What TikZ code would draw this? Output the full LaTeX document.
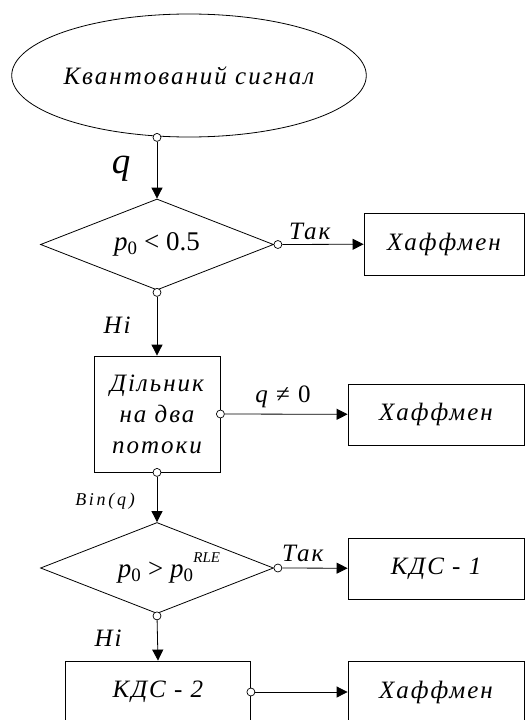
\documentclass[tikz,border=0pt]{standalone}
\usepackage{fontspec}
\setmainfont{Liberation Serif}
\usetikzlibrary{shapes.geometric,arrows.meta}
\newcommand{\pnull}{p\textsubscript{\upshape 0}}

\begin{document}
\begin{tikzpicture}[x=1pt,y=-1pt,
  every node/.style={font=\fontsize{25}{31}\selectfont\itshape\addfontfeatures{LetterSpace=8}},
  blk/.style={draw,line width=0.8pt,fill=white,inner sep=0pt,align=center},
  dec/.style={draw,diamond,aspect=2.56,line width=0.8pt,fill=white,inner sep=0pt,
    minimum width=233pt,minimum height=91pt,font=\fontsize{27}{31}\selectfont\itshape},
  flow/.style={line width=0.8pt,-{Triangle[length=11pt,width=11pt]}},
  port/.style={draw,circle,line width=0.7pt,fill=white,minimum size=8pt,inner sep=0pt},
  lbl/.style={inner sep=0pt}]

\useasboundingbox (0,0) rectangle (525,720);

% main column
\node[draw,ellipse,line width=0.8pt,minimum width=352pt,minimum height=123pt,inner sep=0pt] (src) at (189,75.5) {Квантований сигнал};
\node[dec] (d1) at (157,244.5) {\pnull\ \upshape < 0.5};
\node[blk,minimum width=126pt,minimum height=116pt] (split) at (157,414) {Дільник\\на два\\потоки};
\node[dec] (d2) at (157,568) {\hspace*{24pt}\pnull\ \upshape > \itshape p\textsubscript{\upshape 0}\raisebox{1.2ex}{\fontsize{15}{15}\selectfont RLE}};
\node[blk,minimum width=185pt,minimum height=62pt] (k2) at (158,692) {КДС - 2};

% right column
\node[blk,minimum width=160pt,minimum height=62pt] (h1) at (444,244) {Хаффмен};
\node[blk,minimum width=176pt,minimum height=61pt] (h2) at (436,414.5) {Хаффмен};
\node[blk,minimum width=176pt,minimum height=61pt] (k1) at (436,568.5) {КДС - 1};
\node[blk,minimum width=176pt,minimum height=62pt] (h3) at (436,692) {Хаффмен};

% ports
\node[port] (p1) at (src.south -| d1.north) {};
\node[port] (p2) at ([xshift=4pt]d1.east) {};
\node[port] (p3) at ([yshift=-2pt]d1.south) {};
\node[port] (p4) at (split.east) {};
\node[port] (p5) at (split.south) {};
\node[port] (p6) at ([xshift=4pt]d2.east) {};
\node[port] (p7) at ([yshift=-2pt]d2.south) {};
\node[port] (p8) at (k2.east) {};

\draw[flow] (p1) -- (d1.north);
\draw[flow] (p2) -- (h1);
\draw[flow] (p3) -- (split.north);
\draw[flow] (p4) -- (h2);
\draw[flow] (p5) -- (d2.north);
\draw[flow] (p6) -- (k1);
\draw[flow] (p7) -- (k2.north);
\draw[flow] (p8) -- (h3);

% labels
\node[lbl,font=\fontsize{37}{37}\selectfont\itshape] (lq) at (121,169) {q};
\node[lbl,anchor=base west] (yes1) at (289,239) {Так};
\node[lbl] (no1) at (117,325) {Ні};
\node[lbl] (neq) at (283,397) {q \upshape≠ 0};
\node[lbl,font=\fontsize{18}{18}\selectfont\itshape\addfontfeatures{LetterSpace=15}] (bin) at (105,501) {Bin(q)};
\node[lbl,anchor=base west] (yes2) at (282,561) {Так};
\node[lbl] (no2) at (108,638) {Ні};

\end{tikzpicture}
\end{document}
